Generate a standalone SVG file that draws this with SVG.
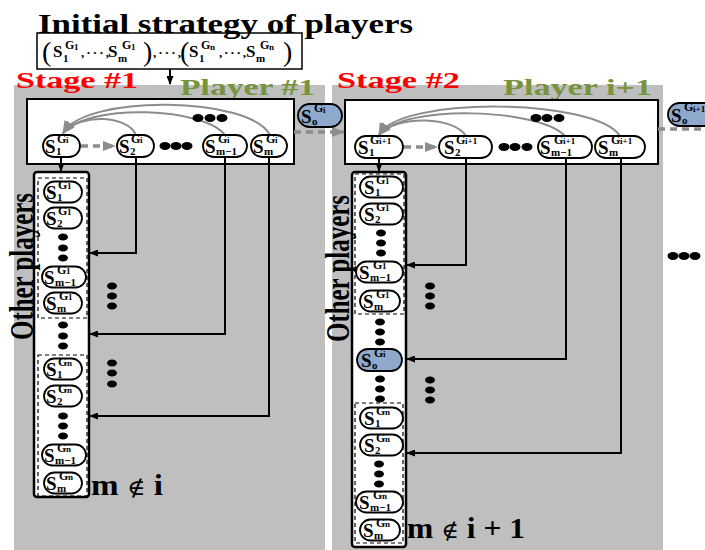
<svg xmlns="http://www.w3.org/2000/svg" width="705" height="550" viewBox="0 0 705 550">
<style>
.t{font-family:'Liberation Serif','Times New Roman',serif;font-weight:bold;fill:#000}
.S{font-size:19px}
.sb{font-size:11px}
.sg{font-size:12px}
.ss{font-size:9px}
.nd{fill:#fff;stroke:#000;stroke-width:1.8}
.bl{fill:#8EA9CC;stroke:#000;stroke-width:1.8}
.grp{fill:none;stroke:#000;stroke-width:1.2;stroke-dasharray:4 3}
.col{fill:#fff;stroke:#000;stroke-width:2.5}
.panel{fill:#BFBFBF}
.inner{fill:#fff;stroke:#000;stroke-width:2}
.c{fill:none;stroke:#000;stroke-width:2}
.gc{fill:none;stroke:#8C8C8C;stroke-width:2}
.gd{fill:none;stroke:#8C8C8C;stroke-width:3.5;stroke-dasharray:7 5}
.dot{fill:#000}
.big{font-family:'Liberation Serif','Times New Roman',serif;font-weight:bold}
.ni{font-family:'DejaVu Serif',serif;font-weight:normal}
</style>
<defs>
<marker id="ab" markerUnits="userSpaceOnUse" markerWidth="9" markerHeight="7" refX="8" refY="3.5" orient="auto"><path d="M0,0 L9,3.5 L0,7 z" fill="#000"/></marker>
<marker id="ag" markerUnits="userSpaceOnUse" markerWidth="13" markerHeight="10" refX="12" refY="5" orient="auto"><path d="M0,0 L13,5 L0,10 z" fill="#8C8C8C"/></marker>
</defs>

<!-- panels -->
<rect class="panel" x="14" y="85" width="311" height="465"/>
<rect class="panel" x="332" y="85" width="331" height="465"/>

<!-- title and initial strategy box -->
<g id="init">
<rect x="37" y="33" width="265" height="36" fill="#fff" stroke="#000" stroke-width="1.5"/>
<text class="t" x="38" y="33" font-size="27" textLength="375" lengthAdjust="spacingAndGlyphs">Initial strategy of players</text>
<text class="t">
<tspan x="42" y="61" font-size="28" font-weight="normal">(</tspan>
<tspan x="53" y="57" font-size="17">S</tspan><tspan x="63" y="62" font-size="11">1</tspan><tspan x="65" y="49" font-size="12">G</tspan><tspan x="74" y="50" font-size="9">1</tspan>
<tspan x="81" y="57" font-size="13" textLength="28" lengthAdjust="spacing">,···,</tspan>
<tspan x="108" y="57" font-size="17">S</tspan><tspan x="118" y="62" font-size="11">m</tspan><tspan x="122" y="49" font-size="12">G</tspan><tspan x="131" y="50" font-size="9">1</tspan>
<tspan x="143" y="61" font-size="28" font-weight="normal">)</tspan>
<tspan x="153" y="57" font-size="13" textLength="28" lengthAdjust="spacing">,···,</tspan>
<tspan x="180" y="61" font-size="28" font-weight="normal">(</tspan>
<tspan x="189" y="57" font-size="17">S</tspan><tspan x="199" y="62" font-size="11">1</tspan><tspan x="201" y="49" font-size="12">G</tspan><tspan x="210" y="50" font-size="9">n</tspan>
<tspan x="219" y="57" font-size="13" textLength="27" lengthAdjust="spacing">,···,</tspan>
<tspan x="246" y="57" font-size="17">S</tspan><tspan x="256" y="62" font-size="11">m</tspan><tspan x="260" y="49" font-size="12">G</tspan><tspan x="269" y="50" font-size="9">n</tspan>
<tspan x="283" y="61" font-size="28" font-weight="normal">)</tspan>
</text>
</g>

<!-- headings -->
<text class="big" x="16" y="88" font-size="23" fill="#FF0000" textLength="122" lengthAdjust="spacingAndGlyphs">Stage #1</text>
<text class="big" x="180" y="95" font-size="24" fill="#77933C" textLength="135" lengthAdjust="spacingAndGlyphs">Player #1</text>
<text class="big" x="337" y="88" font-size="23" fill="#FF0000" textLength="123" lengthAdjust="spacingAndGlyphs">Stage #2</text>
<text class="big" x="503" y="95" font-size="24" fill="#77933C" textLength="149" lengthAdjust="spacingAndGlyphs">Player i+1</text>

<!-- inner boxes -->
<rect class="inner" x="27" y="99" width="267" height="65"/>
<rect class="inner" x="345" y="100" width="313" height="64"/>

<!-- columns -->
<rect class="col" x="34" y="172" width="55" height="325" rx="3"/>
<rect class="grp" x="38" y="178" width="49" height="140"/>
<rect class="grp" x="38" y="355" width="49" height="141"/>
<rect class="col" x="352" y="172" width="54" height="375" rx="3"/>
<rect class="grp" x="355" y="174" width="49" height="140"/>
<rect class="grp" x="355" y="403" width="48" height="140"/>

<!-- connectors -->
<g id="connectors">
<path class="c" d="M170,69 V84" marker-end="url(#ab)"/>
<path class="gc" d="M136,135 C128,116 82,112 63,133" marker-end="url(#ag)"/>
<path class="gc" d="M225,135 C205,108 90,102 63,133" marker-end="url(#ag)"/>
<path class="gc" d="M270,135 C250,96 85,94 63,133" marker-end="url(#ag)"/>
<path class="gd" d="M81,146 H115" marker-end="url(#ag)"/>
<path class="gd" d="M294,132 H344" marker-end="url(#ag)"/>
<path class="c" d="M61,157 V171" marker-end="url(#ab)"/>
<path class="c" d="M136,157 V253 H90" marker-end="url(#ab)"/>
<path class="c" d="M225,157 V334 H90" marker-end="url(#ab)"/>
<path class="c" d="M269,157 V416 H90" marker-end="url(#ab)"/>

<path class="gc" d="M466,136 C455,117 398,114 379,135" marker-end="url(#ag)"/>
<path class="gc" d="M565,136 C540,108 402,104 379,135" marker-end="url(#ag)"/>
<path class="gc" d="M620,136 C595,98 398,96 379,135" marker-end="url(#ag)"/>
<path class="gd" d="M404,147 H437" marker-end="url(#ag)"/>
<path class="gd" d="M658,129 H705"/>
<path class="c" d="M379,158 V171" marker-end="url(#ab)"/>
<path class="c" d="M466,158 V265 H407" marker-end="url(#ab)"/>
<path class="c" d="M566,158 V359 H407" marker-end="url(#ab)"/>
<path class="c" d="M621,158 V453 H407" marker-end="url(#ab)"/>
</g>

<!-- Stage 1 row nodes -->
<g id="p1_s1"><rect class="nd" x="43" y="135" width="37" height="22" rx="11"/><text class="t"><tspan class="S" x="45" y="153">S</tspan><tspan class="sb" x="56" y="155">1</tspan><tspan class="sg" x="57" y="142.5">G</tspan><tspan class="ss" x="66" y="143">i</tspan></text></g>
<g id="p1_s2"><rect class="nd" x="117" y="135" width="37" height="22" rx="11"/><text class="t"><tspan class="S" x="119" y="153">S</tspan><tspan class="sb" x="130" y="155">2</tspan><tspan class="sg" x="131" y="142.5">G</tspan><tspan class="ss" x="140" y="143">i</tspan></text></g>
<g id="p1_sm1"><rect class="nd" x="203" y="135" width="44" height="22" rx="11"/><text class="t"><tspan class="S" x="205" y="153">S</tspan><tspan class="sb" x="216" y="155">m−1</tspan><tspan class="sg" x="218" y="142.5">G</tspan><tspan class="ss" x="227" y="143">i</tspan></text></g>
<g id="p1_sm"><rect class="nd" x="251" y="135" width="36" height="22" rx="11"/><text class="t"><tspan class="S" x="253" y="153">S</tspan><tspan class="sb" x="264" y="155">m</tspan><tspan class="sg" x="266" y="142.5">G</tspan><tspan class="ss" x="275" y="143">i</tspan></text></g>
<g id="p1_so"><rect class="bl" x="298" y="104" width="44" height="23" rx="11.5"/><text class="t"><tspan class="S" x="301" y="122.5">S</tspan><tspan class="sb" x="312" y="124.5">o</tspan><tspan class="sg" x="314" y="112">G</tspan><tspan class="ss" x="323" y="112.5">i</tspan></text></g>

<!-- Stage 1 column nodes -->
<g id="c1_g1s1"><rect class="nd" x="44" y="181.5" width="38" height="21" rx="10.5"/><text class="t"><tspan class="S" x="46" y="199">S</tspan><tspan class="sb" x="57" y="201">1</tspan><tspan class="sg" x="58" y="188.5">G</tspan><tspan class="ss" x="67" y="189">1</tspan></text></g>
<g id="c1_g1s2"><rect class="nd" x="44" y="207.5" width="38" height="21" rx="10.5"/><text class="t"><tspan class="S" x="46" y="225">S</tspan><tspan class="sb" x="57" y="227">2</tspan><tspan class="sg" x="58" y="214.5">G</tspan><tspan class="ss" x="67" y="215">1</tspan></text></g>
<g id="c1_g1sm1"><rect class="nd" x="42" y="266.5" width="44" height="21" rx="10.5"/><text class="t"><tspan class="S" x="44" y="284">S</tspan><tspan class="sb" x="55" y="286">m−1</tspan><tspan class="sg" x="57" y="273.5">G</tspan><tspan class="ss" x="66" y="274">1</tspan></text></g>
<g id="c1_g1sm"><rect class="nd" x="44" y="292.5" width="38" height="21" rx="10.5"/><text class="t"><tspan class="S" x="46" y="310">S</tspan><tspan class="sb" x="57" y="312">m</tspan><tspan class="sg" x="59" y="299.5">G</tspan><tspan class="ss" x="68" y="300">1</tspan></text></g>
<g id="c1_gns1"><rect class="nd" x="44" y="358.5" width="38" height="21" rx="10.5"/><text class="t"><tspan class="S" x="46" y="376">S</tspan><tspan class="sb" x="57" y="378">1</tspan><tspan class="sg" x="58" y="365.5">G</tspan><tspan class="ss" x="67" y="366">n</tspan></text></g>
<g id="c1_gns2"><rect class="nd" x="44" y="385.5" width="38" height="21" rx="10.5"/><text class="t"><tspan class="S" x="46" y="403">S</tspan><tspan class="sb" x="57" y="405">2</tspan><tspan class="sg" x="58" y="392.5">G</tspan><tspan class="ss" x="67" y="393">n</tspan></text></g>
<g id="c1_gnsm1"><rect class="nd" x="42" y="444.5" width="44" height="21" rx="10.5"/><text class="t"><tspan class="S" x="44" y="462">S</tspan><tspan class="sb" x="55" y="464">m−1</tspan><tspan class="sg" x="57" y="451.5">G</tspan><tspan class="ss" x="66" y="452">n</tspan></text></g>
<g id="c1_gnsm"><rect class="nd" x="44" y="472.5" width="38" height="21" rx="10.5"/><text class="t"><tspan class="S" x="46" y="490">S</tspan><tspan class="sb" x="57" y="492">m</tspan><tspan class="sg" x="59" y="479.5">G</tspan><tspan class="ss" x="68" y="480">n</tspan></text></g>

<!-- Stage 2 row nodes -->
<g id="p2_s1"><rect class="nd" x="355" y="136" width="48" height="22" rx="11"/><text class="t"><tspan class="S" x="358" y="154">S</tspan><tspan class="sb" x="369" y="156">1</tspan><tspan class="sg" x="370" y="143.5">G</tspan><tspan class="ss" x="379" y="144">i+1</tspan></text></g>
<g id="p2_s2"><rect class="nd" x="439" y="136" width="53" height="22" rx="11"/><text class="t"><tspan class="S" x="444" y="154">S</tspan><tspan class="sb" x="455" y="156">2</tspan><tspan class="sg" x="456" y="143.5">G</tspan><tspan class="ss" x="465" y="144">i+1</tspan></text></g>
<g id="p2_sm1"><rect class="nd" x="538" y="136" width="54" height="22" rx="11"/><text class="t"><tspan class="S" x="540" y="154">S</tspan><tspan class="sb" x="551" y="156">m−1</tspan><tspan class="sg" x="554" y="143.5">G</tspan><tspan class="ss" x="563" y="144">i+1</tspan></text></g>
<g id="p2_sm"><rect class="nd" x="595" y="136" width="50" height="22" rx="11"/><text class="t"><tspan class="S" x="598" y="154">S</tspan><tspan class="sb" x="609" y="156">m</tspan><tspan class="sg" x="611" y="143.5">G</tspan><tspan class="ss" x="620" y="144">i+1</tspan></text></g>
<g id="p2_so"><rect class="bl" x="668" y="103" width="52" height="23" rx="11.5"/><text class="t"><tspan class="S" x="671" y="121.5">S</tspan><tspan class="sb" x="682" y="123.5">o</tspan><tspan class="sg" x="684" y="111">G</tspan><tspan class="ss" x="693" y="111.5">i+1</tspan></text></g>

<!-- Stage 2 column nodes -->
<g id="c2_g1s1"><rect class="nd" x="360" y="176.5" width="43" height="21" rx="10.5"/><text class="t"><tspan class="S" x="364" y="194">S</tspan><tspan class="sb" x="375" y="196">1</tspan><tspan class="sg" x="376" y="183.5">G</tspan><tspan class="ss" x="385" y="184">1</tspan></text></g>
<g id="c2_g1s2"><rect class="nd" x="360" y="203.5" width="43" height="21" rx="10.5"/><text class="t"><tspan class="S" x="364" y="221">S</tspan><tspan class="sb" x="375" y="223">2</tspan><tspan class="sg" x="376" y="210.5">G</tspan><tspan class="ss" x="385" y="211">1</tspan></text></g>
<g id="c2_g1sm1"><rect class="nd" x="356" y="261.5" width="47" height="21" rx="10.5"/><text class="t"><tspan class="S" x="359" y="279">S</tspan><tspan class="sb" x="370" y="281">m−1</tspan><tspan class="sg" x="373" y="268.5">G</tspan><tspan class="ss" x="382" y="269">1</tspan></text></g>
<g id="c2_g1sm"><rect class="nd" x="360" y="290.5" width="40" height="21" rx="10.5"/><text class="t"><tspan class="S" x="363" y="308">S</tspan><tspan class="sb" x="374" y="310">m</tspan><tspan class="sg" x="376" y="297.5">G</tspan><tspan class="ss" x="385" y="298">1</tspan></text></g>
<g id="c2_so"><rect class="bl" x="357" y="349" width="45" height="22" rx="11"/><text class="t"><tspan class="S" x="361" y="367">S</tspan><tspan class="sb" x="372" y="369">o</tspan><tspan class="sg" x="374" y="356.5">G</tspan><tspan class="ss" x="383" y="357">i</tspan></text></g>
<g id="c2_gns1"><rect class="nd" x="360" y="407.5" width="43" height="21" rx="10.5"/><text class="t"><tspan class="S" x="364" y="425">S</tspan><tspan class="sb" x="375" y="427">1</tspan><tspan class="sg" x="376" y="414.5">G</tspan><tspan class="ss" x="385" y="415">n</tspan></text></g>
<g id="c2_gns2"><rect class="nd" x="360" y="434.5" width="43" height="21" rx="10.5"/><text class="t"><tspan class="S" x="364" y="452">S</tspan><tspan class="sb" x="375" y="454">2</tspan><tspan class="sg" x="376" y="441.5">G</tspan><tspan class="ss" x="385" y="442">n</tspan></text></g>
<g id="c2_gnsm1"><rect class="nd" x="356" y="491.5" width="47" height="21" rx="10.5"/><text class="t"><tspan class="S" x="359" y="509">S</tspan><tspan class="sb" x="370" y="511">m−1</tspan><tspan class="sg" x="373" y="498.5">G</tspan><tspan class="ss" x="382" y="499">n</tspan></text></g>
<g id="c2_gnsm"><rect class="nd" x="360" y="519.5" width="40" height="21" rx="10.5"/><text class="t"><tspan class="S" x="363" y="537">S</tspan><tspan class="sb" x="374" y="539">m</tspan><tspan class="sg" x="376" y="526.5">G</tspan><tspan class="ss" x="385" y="527">n</tspan></text></g>

<!-- dots -->
<g class="dot">
<ellipse cx="198" cy="118" rx="5.5" ry="4"/><ellipse cx="210" cy="118" rx="5.5" ry="4"/><ellipse cx="222" cy="118" rx="5.5" ry="4"/>
<ellipse cx="165" cy="146" rx="5.5" ry="4"/><ellipse cx="176" cy="146" rx="5.5" ry="4"/><ellipse cx="187" cy="146" rx="5.5" ry="4"/>
<ellipse cx="63" cy="237" rx="5" ry="3.5"/><ellipse cx="63" cy="248" rx="5" ry="3.5"/><ellipse cx="63" cy="258" rx="5" ry="3.5"/>
<ellipse cx="63" cy="325" rx="5" ry="3.5"/><ellipse cx="63" cy="336" rx="5" ry="3.5"/><ellipse cx="63" cy="346" rx="5" ry="3.5"/>
<ellipse cx="63" cy="416" rx="5" ry="3.5"/><ellipse cx="63" cy="426" rx="5" ry="3.5"/><ellipse cx="63" cy="436" rx="5" ry="3.5"/>
<ellipse cx="112" cy="286" rx="5" ry="3.5"/><ellipse cx="112" cy="296" rx="5" ry="3.5"/><ellipse cx="112" cy="306" rx="5" ry="3.5"/>
<ellipse cx="112" cy="363" rx="5" ry="3.5"/><ellipse cx="112" cy="373" rx="5" ry="3.5"/><ellipse cx="112" cy="384" rx="5" ry="3.5"/>
<ellipse cx="536" cy="118" rx="5.5" ry="4"/><ellipse cx="547" cy="118" rx="5.5" ry="4"/><ellipse cx="559" cy="118" rx="5.5" ry="4"/>
<ellipse cx="504" cy="147" rx="5.5" ry="4"/><ellipse cx="515" cy="147" rx="5.5" ry="4"/><ellipse cx="527" cy="147" rx="5.5" ry="4"/>
<ellipse cx="381" cy="233" rx="5" ry="3.5"/><ellipse cx="381" cy="243" rx="5" ry="3.5"/><ellipse cx="381" cy="253" rx="5" ry="3.5"/>
<ellipse cx="380" cy="322" rx="5" ry="3.5"/><ellipse cx="380" cy="332" rx="5" ry="3.5"/><ellipse cx="380" cy="342" rx="5" ry="3.5"/>
<ellipse cx="380" cy="379" rx="5" ry="3.5"/><ellipse cx="380" cy="389" rx="5" ry="3.5"/><ellipse cx="380" cy="399" rx="5" ry="3.5"/>
<ellipse cx="379" cy="464" rx="5" ry="3.5"/><ellipse cx="379" cy="474" rx="5" ry="3.5"/><ellipse cx="379" cy="484" rx="5" ry="3.5"/>
<ellipse cx="430" cy="286" rx="5" ry="3.5"/><ellipse cx="430" cy="296" rx="5" ry="3.5"/><ellipse cx="430" cy="306" rx="5" ry="3.5"/>
<ellipse cx="430" cy="380" rx="5" ry="3.5"/><ellipse cx="430" cy="390" rx="5" ry="3.5"/><ellipse cx="430" cy="400" rx="5" ry="3.5"/>
<ellipse cx="673" cy="256" rx="5.5" ry="4"/><ellipse cx="684" cy="256" rx="5.5" ry="4"/><ellipse cx="695" cy="256" rx="5.5" ry="4"/>
</g>

<!-- side labels -->
<text class="big" transform="translate(33,340) rotate(-90)" font-size="34" textLength="147" lengthAdjust="spacingAndGlyphs">Other players</text>
<text class="big" transform="translate(349,342) rotate(-90)" font-size="34" textLength="147" lengthAdjust="spacingAndGlyphs">Other players</text>
<text class="big" x="91" y="495" font-size="29" textLength="72" lengthAdjust="spacingAndGlyphs">m <tspan class="ni" font-size="22">∉</tspan> i</text>
<text class="big" x="407" y="538" font-size="29" textLength="118" lengthAdjust="spacingAndGlyphs">m <tspan class="ni" font-size="22">∉</tspan> i + 1</text>
</svg>
